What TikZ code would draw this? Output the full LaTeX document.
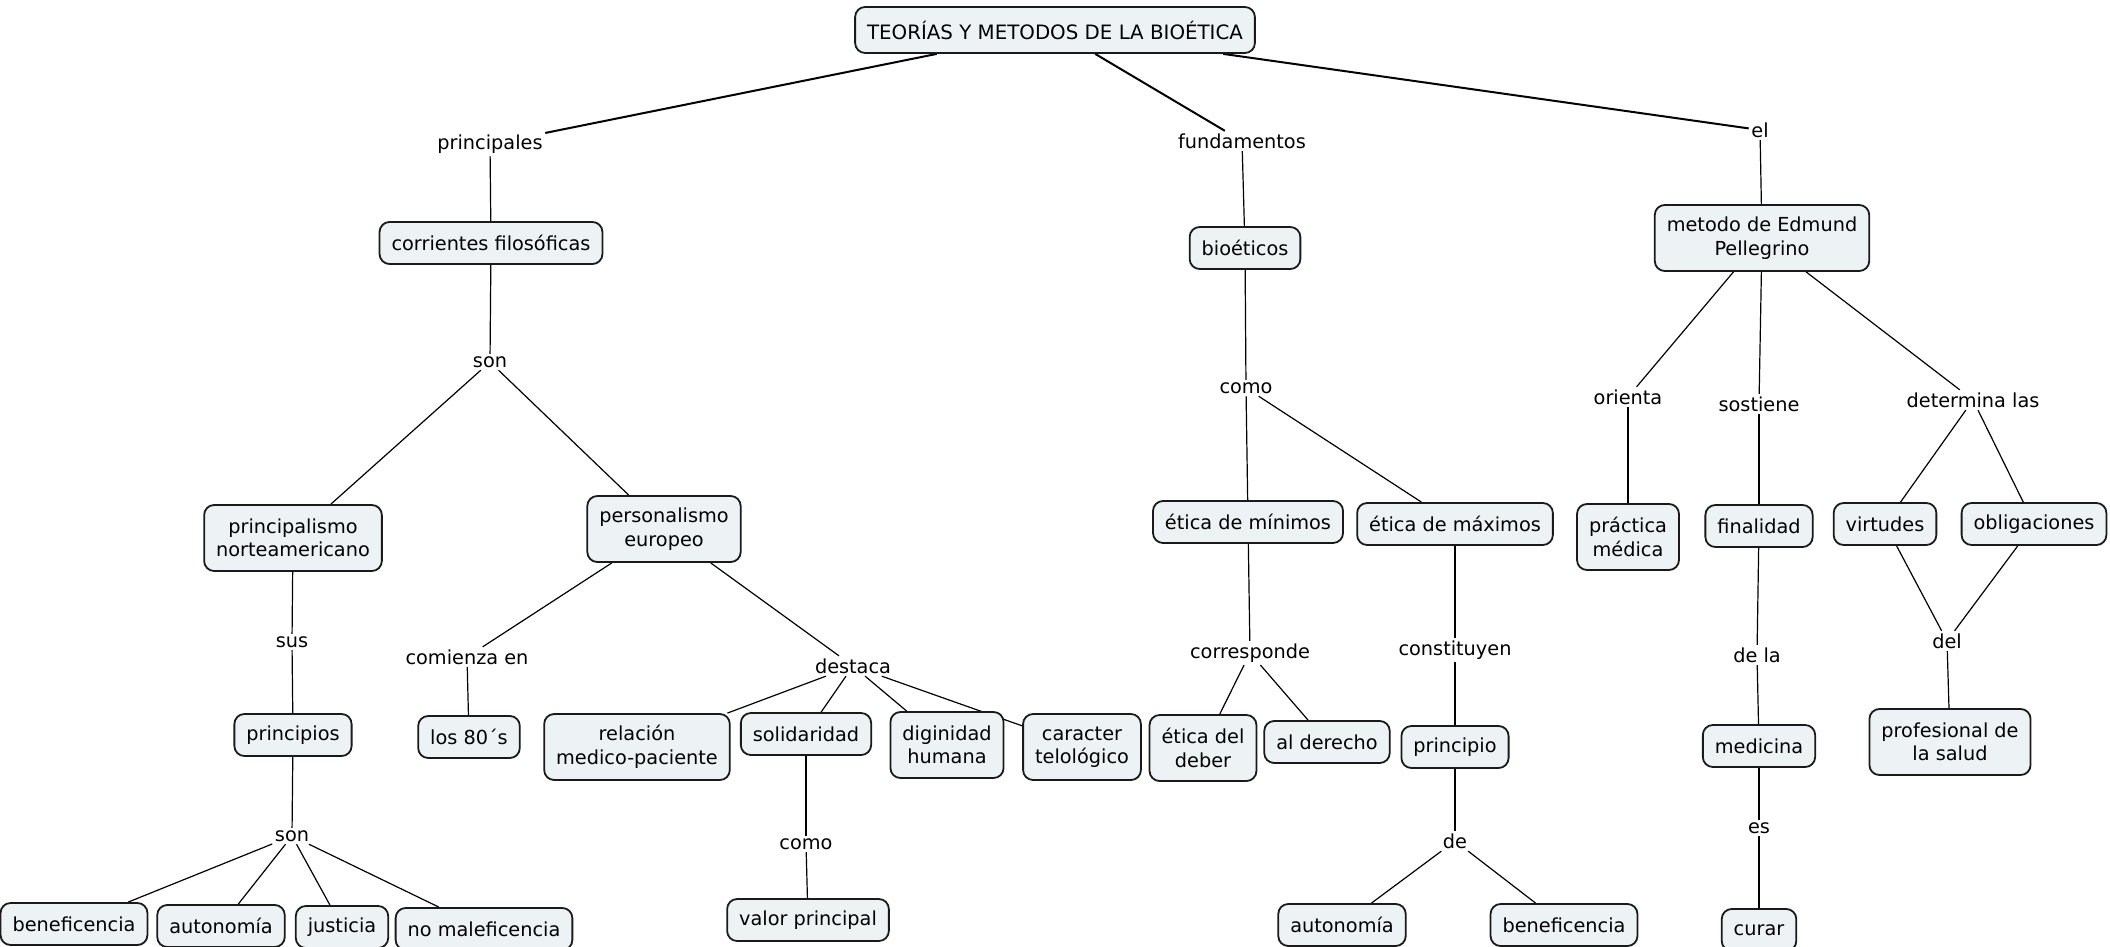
\documentclass[tikz,border=0pt]{standalone}
\usepackage{fontspec}
\setmainfont{DejaVu Sans}
\pgfdeclarelayer{bg}
\pgfsetlayers{bg,main}
\definecolor{boxfill}{HTML}{EDF3F5}
\definecolor{boxline}{HTML}{1A1A1A}
\begin{document}
\begin{tikzpicture}[x=1pt,y=-1pt,
  concept/.style={draw=boxline, line width=1.8pt, rounded corners=10pt, fill=boxfill,
    inner xsep=12pt, inner ysep=6pt, minimum height=42pt, align=center,
    font=\fontsize{19.3}{23.5}\selectfont},
  concept2/.style={concept, minimum height=66pt},
  link/.style={inner sep=2.5pt, font=\fontsize{19.3}{23.5}\selectfont},
  conn/.style={line width=1.2pt, black},
  connt/.style={line width=2pt, black}]
\useasboundingbox (0,0) rectangle (2110,947);
% concepts
\node[concept, minimum height=46pt, font=\fontsize{19.8}{23.5}\selectfont] (title) at (1055,30) {TEORÍAS Y METODOS DE LA BIOÉTICA};
\node[concept] (corr) at (491,243) {corrientes filosóficas};
\node[concept] (bioe) at (1245,248) {bioéticos};
\node[concept2] (pell) at (1762,238) {metodo de Edmund\\Pellegrino};
\node[concept2] (pna) at (293,538) {principalismo\\norteamericano};
\node[concept2] (pers) at (664,529) {personalismo\\europeo};
\node[concept] (emin) at (1248,522) {ética de mínimos};
\node[concept] (emax) at (1455,524) {ética de máximos};
\node[concept2] (prac) at (1628,537) {práctica\\médica};
\node[concept] (fin) at (1759,526) {finalidad};
\node[concept] (virt) at (1885,524) {virtudes};
\node[concept] (oblig) at (2034,524) {obligaciones};
\node[concept] (principios) at (293,735) {principios};
\node[concept] (l80) at (469,737) {los 80´s};
\node[concept2] (rel) at (637,747) {relación\\medico-paciente};
\node[concept] (sol) at (806,734) {solidaridad};
\node[concept2] (dig) at (947,745) {diginidad\\humana};
\node[concept2] (car) at (1082,747) {caracter\\telológico};
\node[concept2] (edeb) at (1203,748) {ética del\\deber};
\node[concept] (der) at (1327,742) {al derecho};
\node[concept] (prin) at (1455,747) {principio};
\node[concept] (med) at (1759,746) {medicina};
\node[concept2] (prof) at (1950,742) {profesional de\\la salud};
\node[concept] (b1) at (74,924) {beneficencia};
\node[concept] (a1) at (221,926) {autonomía};
\node[concept] (j) at (342,927) {justicia};
\node[concept] (nm) at (484,929) {no maleficencia};
\node[concept] (vp) at (808,920) {valor principal};
\node[concept] (a2) at (1342,925) {autonomía};
\node[concept] (b2) at (1564,925) {beneficencia};
\node[concept] (curar) at (1759,930) {curar};
% linking phrases
\node[link] (lprinc) at (490,144) {principales};
\node[link] (lfund) at (1242,141) {fundamentos};
\node[link] (lel) at (1760,130) {el};
\node[link] (lson1) at (490,362) {son};
\node[link] (lcomo1) at (1246,388) {como};
\node[link] (lori) at (1628,397) {orienta};
\node[link] (lsos) at (1759,404) {sostiene};
\node[link] (ldet) at (1973,400) {determina las};
\node[link] (lsus) at (292,642) {sus};
\node[link] (lcom) at (467,657) {comienza en};
\node[link] (ldest) at (853,666) {destaca};
\node[link] (lcorr) at (1250,653) {corresponde};
\node[link] (lconst) at (1455,650) {constituyen};
\node[link] (ldela) at (1757,655) {de la};
\node[link] (ldel) at (1947,641) {del};
\node[link] (lson2) at (292,836) {son};
\node[link] (lcomo2) at (806,844) {como};
\node[link] (lde) at (1455,841) {de};
\node[link] (les) at (1759,828) {es};
% connectors
\begin{pgfonlayer}{bg}
\fill[white] (0,0) rectangle (2110,947);
\draw[connt] (title) -- (lprinc);
\draw[connt] (title) -- (lfund);
\draw[connt] (title) -- (lel);
\draw[conn] (lprinc) -- (corr);
\draw[conn] (lfund) -- (bioe);
\draw[conn] (lel) -- (pell);
\draw[conn] (corr) -- (lson1);
\draw[conn] (lson1) -- (pna);
\draw[conn] (lson1) -- (pers);
\draw[conn] (pna) -- (lsus);
\draw[conn] (lsus) -- (principios);
\draw[conn] (principios) -- (lson2);
\draw[conn] (lson2) -- (b1);
\draw[conn] (lson2) -- (a1);
\draw[conn] (lson2) -- (j);
\draw[conn] (lson2) -- (nm);
\draw[conn] (pers) -- (lcom);
\draw[conn] (lcom) -- (l80);
\draw[conn] (pers) -- (ldest);
\draw[conn] (ldest) -- (rel);
\draw[conn] (ldest) -- (sol);
\draw[conn] (ldest) -- (dig);
\draw[conn] (ldest) -- (car);
\draw[conn] (sol) -- (lcomo2);
\draw[conn] (lcomo2) -- (vp);
\draw[conn] (bioe) -- (lcomo1);
\draw[conn] (lcomo1) -- (emin);
\draw[conn] (lcomo1) -- (emax);
\draw[conn] (emin) -- (lcorr);
\draw[conn] (lcorr) -- (edeb);
\draw[conn] (lcorr) -- (der);
\draw[conn] (emax) -- (lconst);
\draw[conn] (lconst) -- (prin);
\draw[conn] (prin) -- (lde);
\draw[conn] (lde) -- (a2);
\draw[conn] (lde) -- (b2);
\draw[conn] (pell) -- (lori);
\draw[conn] (lori) -- (prac);
\draw[conn] (pell) -- (lsos);
\draw[conn] (lsos) -- (fin);
\draw[conn] (fin) -- (ldela);
\draw[conn] (ldela) -- (med);
\draw[conn] (med) -- (les);
\draw[conn] (les) -- (curar);
\draw[conn] (pell) -- (ldet);
\draw[conn] (ldet) -- (virt);
\draw[conn] (ldet) -- (oblig);
\draw[conn] (virt) -- (ldel);
\draw[conn] (oblig) -- (ldel);
\draw[conn] (ldel) -- (prof);
\end{pgfonlayer}
\end{tikzpicture}
\end{document}
